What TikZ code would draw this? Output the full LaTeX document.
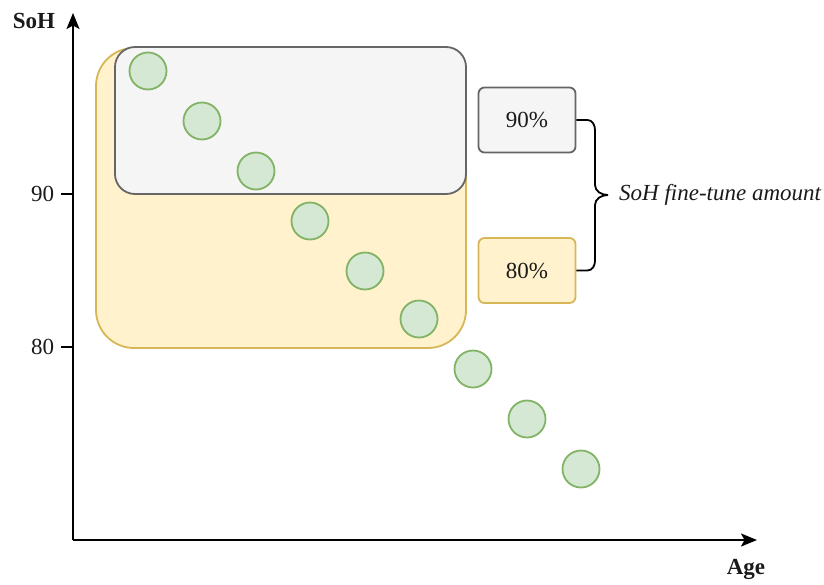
\documentclass[tikz,border=0pt]{standalone}
\usepackage{fontspec}
\setmainfont{Liberation Serif}
\usetikzlibrary{arrows.meta}
\definecolor{ptfill}{HTML}{D5E8D4}
\definecolor{ptline}{HTML}{82B366}
\definecolor{yfill}{HTML}{FFF2CC}
\definecolor{yline}{HTML}{D6B656}
\definecolor{gfill}{HTML}{F5F5F5}
\definecolor{gline}{HTML}{666666}
\definecolor{ink}{HTML}{1A1A1A}
\tikzset{
  axis/.style={line width=1.9pt, -{Stealth[length=16pt,width=13pt,inset=3.5pt]}},
  tick/.style={line width=1.9pt},
  pt/.style={circle, draw=ptline, fill=ptfill, line width=1.8pt, minimum size=37pt, inner sep=0pt},
  region/.style={draw, line width=1.8pt, inner sep=0pt},
  tag/.style={draw, line width=1.8pt, rounded corners=6pt, minimum width=97pt, minimum height=65pt, inner sep=0pt},
  lbl/.style={font=\fontsize{23}{27}\selectfont, inner sep=0pt, text=ink},
  blbl/.style={font=\fontsize{23}{27}\selectfont\bfseries, inner sep=0pt, text=ink},
  brace/.style={line width=1.8pt}
}
\begin{document}
\begin{tikzpicture}[x=1pt,y=-1pt]
\useasboundingbox (0,0) rectangle (824,584);
% shaded SoH ranges
\node[region, draw=yline, fill=yfill, rounded corners=38pt, minimum width=370pt, minimum height=300pt] (r80) at (281,198) {};
\node[region, draw=gline, fill=gfill, rounded corners=20pt, minimum width=351pt, minimum height=147pt] (r90) at (290.5,120.5) {};
% axes
\coordinate (o) at (73,540);
\coordinate (ytop) at (73,13);
\coordinate (xend) at (757,540);
\draw[axis] (o) -- (ytop);
\draw[axis] (o) -- (xend);
\node[blbl] (soh) at (34,21) {SoH};
\node[blbl] (age) at (746,569) {Age};
% ticks
\coordinate (t90) at (73,194);
\coordinate (t80) at (73,347);
\draw[tick] (t90) -- ++(-12,0) node[lbl, anchor=east, xshift=-6pt] (l90) {90};
\draw[tick] (t80) -- ++(-12,0) node[lbl, anchor=east, xshift=-6pt] (l80) {80};
% data points
\foreach \i/\px/\py in {1/148/71, 2/202/121, 3/256/171, 4/310/221, 5/365/271, 6/419/319, 7/473/369, 8/527/419, 9/581/469}
  \node[pt] (p\i) at (\px,\py) {};
% legend boxes
\node[tag, draw=gline, fill=gfill, lbl] (b90) at (527,120) {90\%};
\node[tag, draw=yline, fill=yfill, lbl] (b80) at (527,270.5) {80\%};
% brace
\coordinate (tip) at (608,195);
\draw[brace] (b90.east) -- ++(11,0) to[out=0,in=90] (595,130) -- (595,185) to[out=-90,in=180] (tip);
\draw[brace] (b80.east) -- ++(11,0) to[out=0,in=-90] (595,261) -- (595,205) to[out=90,in=180] (tip);
\node[lbl, anchor=west, font=\fontsize{23}{27}\selectfont\itshape] (amt) at (619,195) {SoH fine-tune amount};
\end{tikzpicture}
\end{document}
